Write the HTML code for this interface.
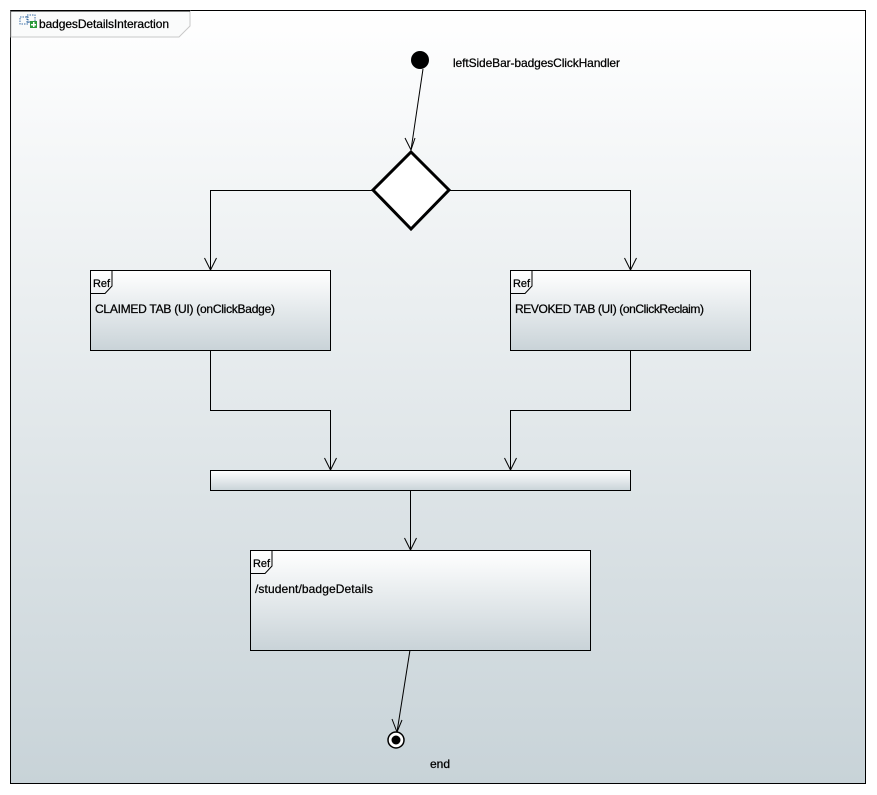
<!DOCTYPE html>
<html><head><meta charset="utf-8"><style>
html,body{margin:0;padding:0;background:#fff;}
svg{display:block;}
text{font-family:"Liberation Sans",sans-serif;font-size:12px;fill:#000;stroke:#000;stroke-width:0.25px;}
</style></head><body>
<svg width="877" height="795" viewBox="0 0 877 795" xmlns="http://www.w3.org/2000/svg">
<defs>
<linearGradient id="bg" x1="0" y1="0" x2="0" y2="1">
<stop offset="0" stop-color="#ffffff"/><stop offset="1" stop-color="#c8d3d8"/>
</linearGradient>
<linearGradient id="box" x1="0" y1="0" x2="0" y2="1">
<stop offset="0" stop-color="#ffffff"/><stop offset="1" stop-color="#c9d3d8"/>
</linearGradient>
</defs>
<rect x="10.5" y="10.5" width="855" height="773" fill="url(#bg)" stroke="#000" stroke-width="1"/>
<path d="M11 11 H190 V26 L179 37 H11 Z" fill="#fafbfb" stroke="#c8c8c8" stroke-width="1"/>
<rect x="11" y="10.5" width="179" height="1" fill="#000"/>
<!-- icon -->
<rect x="20" y="17" width="8" height="7" fill="none" stroke="#3a6ea5" stroke-dasharray="1.5,1"/>
<rect x="27" y="15" width="8" height="7" fill="none" stroke="#3a6ea5" stroke-dasharray="1.5,1"/>
<rect x="30" y="21" width="7" height="7" fill="#2a9a3a"/>
<rect x="33" y="22" width="1.5" height="5" fill="#fff"/><rect x="31" y="24" width="5" height="1.5" fill="#fff"/>
<text x="39" y="28" textLength="130">badgesDetailsInteraction</text>

<circle cx="420" cy="60" r="9" fill="#000"/>
<text x="453" y="67" textLength="167">leftSideBar-badgesClickHandler</text>
<line x1="423" y1="69" x2="411" y2="150" stroke="#000"/>
<path d="M405 138 L411 150 L415 138" fill="none" stroke="#000"/>

<polygon points="411,152 449,190 411,229 373,190" fill="#fff" stroke="#000" stroke-width="3"/>

<g fill="none" stroke="#000" stroke-width="1">
<path d="M373 190.5 H210.5 V270"/>
<path d="M204.5 258 L210.5 270 L216.5 258"/>
<path d="M449 190.5 H630.5 V270"/>
<path d="M624.5 258 L630.5 270 L636.5 258"/>
<path d="M210.5 350 V410.5 H330.5 V470"/>
<path d="M324.5 458 L330.5 470 L336.5 458"/>
<path d="M630.5 350 V410.5 H510.5 V470"/>
<path d="M504.5 458 L510.5 470 L516.5 458"/>
<path d="M410.5 490 V550"/>
<path d="M404.5 538 L410.5 550 L416.5 538"/>
<path d="M410 650 L397 732"/>
<path d="M392 719 L397 732 L402 720"/>
</g>

<rect x="90.5" y="270.5" width="240" height="80" fill="url(#box)" stroke="#000"/>
<path d="M90.5 293.5 H105 L112 286 V270.5" fill="none" stroke="#000"/>
<text x="93" y="287" style="font-size:11px" textLength="17">Ref</text>
<text x="95" y="313" textLength="180">CLAIMED TAB (UI) (onClickBadge)</text>

<rect x="510.5" y="270.5" width="240" height="80" fill="url(#box)" stroke="#000"/>
<path d="M510.5 293.5 H525 L532 286 V270.5" fill="none" stroke="#000"/>
<text x="513" y="287" style="font-size:11px" textLength="17">Ref</text>
<text x="515" y="313" textLength="189">REVOKED TAB (UI) (onClickReclaim)</text>

<rect x="210.5" y="470.5" width="420" height="20" fill="url(#box)" stroke="#000"/>

<rect x="250.5" y="550.5" width="340" height="100" fill="url(#box)" stroke="#000"/>
<path d="M250.5 573.5 H265 L272 566 V550.5" fill="none" stroke="#000"/>
<text x="253" y="567" style="font-size:11px" textLength="17">Ref</text>
<text x="255" y="593" textLength="118">/student/badgeDetails</text>

<circle cx="396" cy="740" r="8" fill="#fff" stroke="#000" stroke-width="1.5"/>
<circle cx="396" cy="740" r="4.5" fill="#000"/>
<text x="430" y="768" textLength="20">end</text>
</svg>
</body></html>
